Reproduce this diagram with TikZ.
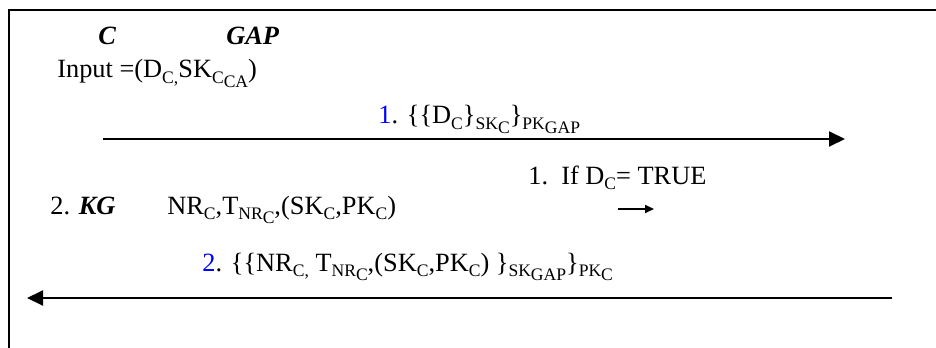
\documentclass[tikz,border=0pt]{standalone}
\usepackage{fontspec}
\setmainfont{Liberation Serif}
\usetikzlibrary{positioning,arrows.meta}
\newcommand\lo[1]{\raisebox{-0.45ex}{\fontsize{10}{12}\selectfont #1}}
\newcommand\who[1]{\textbf{\textit{#1}}}

\begin{document}
\begin{tikzpicture}[x=0.02cm,y=-0.02cm,
  txt/.style={anchor=base west,inner sep=0pt,font=\fontsize{15}{17}\selectfont},
  msg/.style={line width=1.1pt,-{Triangle[length=16*0.02cm,width=15*0.02cm]}},
  note/.style={line width=1.1pt,-{Triangle[length=9*0.02cm,width=8*0.02cm]}}]
  \useasboundingbox (0,0) rectangle (936,348);
  \draw[line width=1pt] (9,348) -- (9,10) -- (936,10);

  \node[txt] (c) at (98,45) {\who{C}};
  \node[txt] (gap) at (226,45) {\who{GAP}};
  \node[txt] (input) at (57,78) {Input =(D\lo{C,}SK\lo{C\lo{CA}})};

  \node[txt] (m1) at (378,124) {\textcolor{blue}{1}. \{\{D\lo{C}\}\lo{SK\lo{C}}\}\lo{PK\lo{GAP}}};
  \coordinate (m1s) at (103,139);
  \coordinate (m1e) at (845,139);
  \draw[msg] (m1s) -- (m1e);

  \node[txt] (check) at (528,184) {1.\ \ If D\lo{C}= TRUE};
  \coordinate (oks) at (618,209);
  \coordinate (oke) at (654,209);
  \draw[note] (oks) -- (oke);

  \node[txt] (kg) at (50,214) {2. \who{KG}};
  \node[txt] (keys) at (167,214) {NR\lo{C},T\lo{NR\lo{C}},(SK\lo{C},PK\lo{C})};

  \node[txt] (m2) at (202,271) {\textcolor{blue}{2}. \{\{NR\lo{C,} T\lo{NR\lo{C}},(SK\lo{C},PK\lo{C}) \}\lo{SK\lo{GAP}}\}\lo{PK\lo{C}}};
  \coordinate (m2s) at (892,298);
  \coordinate (m2e) at (27,298);
  \draw[msg] (m2s) -- (m2e);
\end{tikzpicture}
\end{document}
